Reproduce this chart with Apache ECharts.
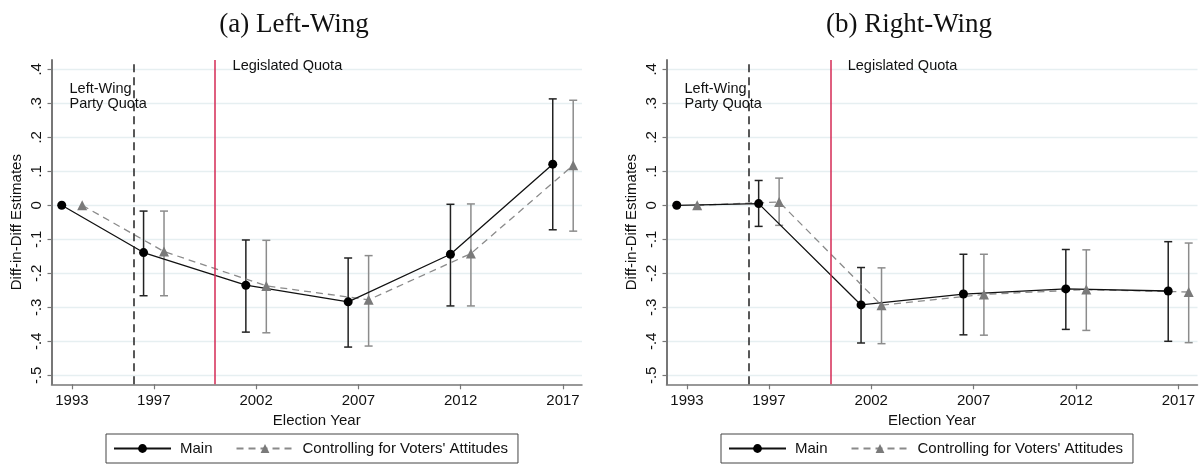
<!DOCTYPE html>
<html>
<head>
<meta charset="utf-8">
<script src="https://cdn.jsdelivr.net/npm/echarts@6/dist/echarts.min.js"></script>
<style>html,body{margin:0;padding:0;background:#fff;}#c{width:1200px;height:467px;}</style>
</head>
<body>
<div id="c"></div>
<script>
// ---- data ----
const years = [1993, 1997, 2002, 2007, 2012, 2017];
const xTickYears = [1993, 1997, 2002, 2007, 2012, 2017];
const yTickValues = [-0.5, -0.4, -0.3, -0.2, -0.1, 0, 0.1, 0.2, 0.3, 0.4];
const partyQuotaYear = 1996;
const legislatedQuotaYear = 2000;
const panelTitles = ['(a) Left-Wing', '(b) Right-Wing'];
const seriesNames = ['Main', "Controlling for Voters' Attitudes"];

const leftMain   = [0, -0.139, -0.235, -0.284, -0.144, 0.121];
const leftMainLo = [null, -0.266, -0.373, -0.417, -0.296, -0.072];
const leftMainHi = [null, -0.017, -0.102, -0.155, 0.003, 0.313];
const leftCtrl   = [0, -0.136, -0.237, -0.278, -0.142, 0.118];
const leftCtrlLo = [null, -0.266, -0.375, -0.414, -0.296, -0.076];
const leftCtrlHi = [null, -0.017, -0.103, -0.148, 0.004, 0.309];

const rightMain   = [0, 0.005, -0.293, -0.261, -0.246, -0.252];
const rightMainLo = [null, -0.062, -0.405, -0.381, -0.365, -0.400];
const rightMainHi = [null, 0.073, -0.183, -0.144, -0.130, -0.107];
const rightCtrl   = [0, 0.010, -0.294, -0.262, -0.248, -0.255];
const rightCtrlLo = [null, -0.059, -0.407, -0.382, -0.368, -0.404];
const rightCtrlHi = [null, 0.080, -0.184, -0.144, -0.131, -0.111];

// ---- styling / layout ----
const FONT = 'Liberation Sans, Arial, Helvetica, sans-serif';
const SERIF = 'Liberation Serif, Times New Roman, serif';
const OFF = 0.5; // dodge in years
const grids = [
  {left: 51.5, top: 60, width: 530.5, height: 324.3},
  {left: 666.5, top: 60, width: 531, height: 324.3}
];
const panelShift = 615;

function fmtY(v) {
  if (v === 0) return '0';
  const a = Math.abs(v).toFixed(1).replace(/^0/, '');
  return (v < 0 ? '-' : '') + a;
}

function errSeries(name, gi, lo, hi, offset, color) {
  const data = [];
  years.forEach((y, i) => { if (lo[i] != null) data.push([y + offset, lo[i], hi[i]]); });
  return {
    type: 'custom', name: name, xAxisIndex: gi, yAxisIndex: gi, z: 2, silent: true,
    data: data,
    encode: {x: 0, y: [1, 2]},
    renderItem: function (params, api) {
      const x = api.value(0);
      const p1 = api.coord([x, api.value(1)]);
      const p2 = api.coord([x, api.value(2)]);
      const w = 4;
      const st = {stroke: color, lineWidth: 1.5};
      return {type: 'group', children: [
        {type: 'line', shape: {x1: p1[0], y1: p1[1], x2: p2[0], y2: p2[1]}, style: st},
        {type: 'line', shape: {x1: p1[0] - w, y1: p1[1], x2: p1[0] + w, y2: p1[1]}, style: st},
        {type: 'line', shape: {x1: p2[0] - w, y1: p2[1], x2: p2[0] + w, y2: p2[1]}, style: st}
      ]};
    }
  };
}

function lineSeries(name, gi, vals, offset, isMain) {
  const s = {
    type: 'line', name: name, xAxisIndex: gi, yAxisIndex: gi, z: 3,
    data: years.map((y, i) => [y + offset, vals[i]]),
    symbol: isMain ? 'circle' : 'triangle',
    symbolSize: isMain ? 9 : 10,
    showSymbol: true,
    animation: false,
    itemStyle: {color: isMain ? '#000' : '#7a7a7a'},
    lineStyle: isMain ? {color: '#111', width: 1.3, type: 'solid'}
                      : {color: '#8a8a8a', width: 1.3, type: [7, 5]}
  };
  if (isMain) {
    s.markLine = {
      silent: true, symbol: 'none', label: {show: false}, animation: false,
      data: [
        {xAxis: partyQuotaYear, lineStyle: {color: '#222', type: [8, 5], width: 1.5}},
        {xAxis: legislatedQuotaYear, lineStyle: {color: '#d42a55', type: 'solid', width: 1.5}}
      ]
    };
    s.markPoint = {
      silent: true, symbol: 'circle', symbolSize: 0, animation: false,
      label: {show: true, position: [0, 0], align: 'left', verticalAlign: 'middle',
              color: '#111', fontFamily: FONT, fontSize: 14.5, lineHeight: 15},
      data: [
        {coord: [1992.88, 0.319], value: 'Left-Wing\nParty Quota', label: {formatter: 'Left-Wing\nParty Quota'}},
        {coord: [2000.85, 0.409], value: 'Legislated Quota', label: {formatter: 'Legislated Quota'}}
      ]
    };
  }
  return s;
}

const xAxes = grids.map((g, gi) => ({
  type: 'value', gridIndex: gi, min: 1992, max: 2017.93,
  name: 'Election Year', nameLocation: 'middle', nameGap: 26,
  nameTextStyle: {fontFamily: FONT, fontSize: 15, color: '#111'},
  axisLine: {show: true, onZero: false, lineStyle: {color: '#777', width: 1.5}},
  axisTick: {show: true, length: 5, customValues: xTickYears, lineStyle: {color: '#777', width: 1.2}},
  axisLabel: {show: true, customValues: xTickYears, margin: 9, fontFamily: FONT, fontSize: 15, color: '#111',
              formatter: v => String(v)},
  splitLine: {show: false}
}));

const yAxes = grids.map((g, gi) => ({
  type: 'value', gridIndex: gi, min: -0.5265, max: 0.4274,
  name: 'Diff-in-Diff Estimates', nameLocation: 'middle', nameGap: 27, nameRotate: 90,
  nameTextStyle: {fontFamily: FONT, fontSize: 15, color: '#111'},
  axisLine: {show: true, onZero: false, lineStyle: {color: '#777', width: 2}},
  axisTick: {show: true, length: 4, customValues: yTickValues, lineStyle: {color: '#777', width: 1.2}},
  axisLabel: {show: true, customValues: yTickValues, rotate: 90, margin: 7, fontFamily: FONT, fontSize: 15,
              color: '#111', formatter: v => fmtY(v)},
  splitLine: {show: true, lineStyle: {color: '#e6eff1', width: 1.3}}
}));

const series = [
  errSeries('errL1', 0, leftMainLo, leftMainHi, -OFF, '#222'),
  errSeries('errL2', 0, leftCtrlLo, leftCtrlHi, OFF, '#8c8c8c'),
  lineSeries(seriesNames[1], 0, leftCtrl, OFF, false),
  lineSeries(seriesNames[0], 0, leftMain, -OFF, true),
  errSeries('errR1', 1, rightMainLo, rightMainHi, -OFF, '#222'),
  errSeries('errR2', 1, rightCtrlLo, rightCtrlHi, OFF, '#8c8c8c'),
  lineSeries(seriesNames[1], 1, rightCtrl, OFF, false),
  lineSeries(seriesNames[0], 1, rightMain, -OFF, true)
];

const legends = [0, 1].map(i => ({
  data: seriesNames,
  left: 106 + i * panelShift, top: 434,
  orient: 'horizontal',
  itemWidth: 57, itemHeight: 11, itemGap: 23,
  padding: [7, 10, 7, 7],
  borderColor: '#444', borderWidth: 1, borderRadius: 0,
  selectedMode: false,
  textStyle: {fontFamily: FONT, fontSize: 15, color: '#111', padding: [0, 0, 0, 4]}
}));

const titles = panelTitles.map((t, i) => ({
  text: t, left: 294 + i * panelShift, top: 11, textAlign: 'center', padding: 0,
  textStyle: {fontFamily: SERIF, fontSize: 27, fontWeight: 'normal', color: '#111'}
}));

const chart = echarts.init(document.getElementById('c'), null, {renderer: 'canvas'});
chart.setOption({
  animation: false,
  backgroundColor: '#fff',
  title: titles,
  legend: legends,
  grid: grids,
  xAxis: xAxes,
  yAxis: yAxes,
  series: series
});
</script>
</body>
</html>
